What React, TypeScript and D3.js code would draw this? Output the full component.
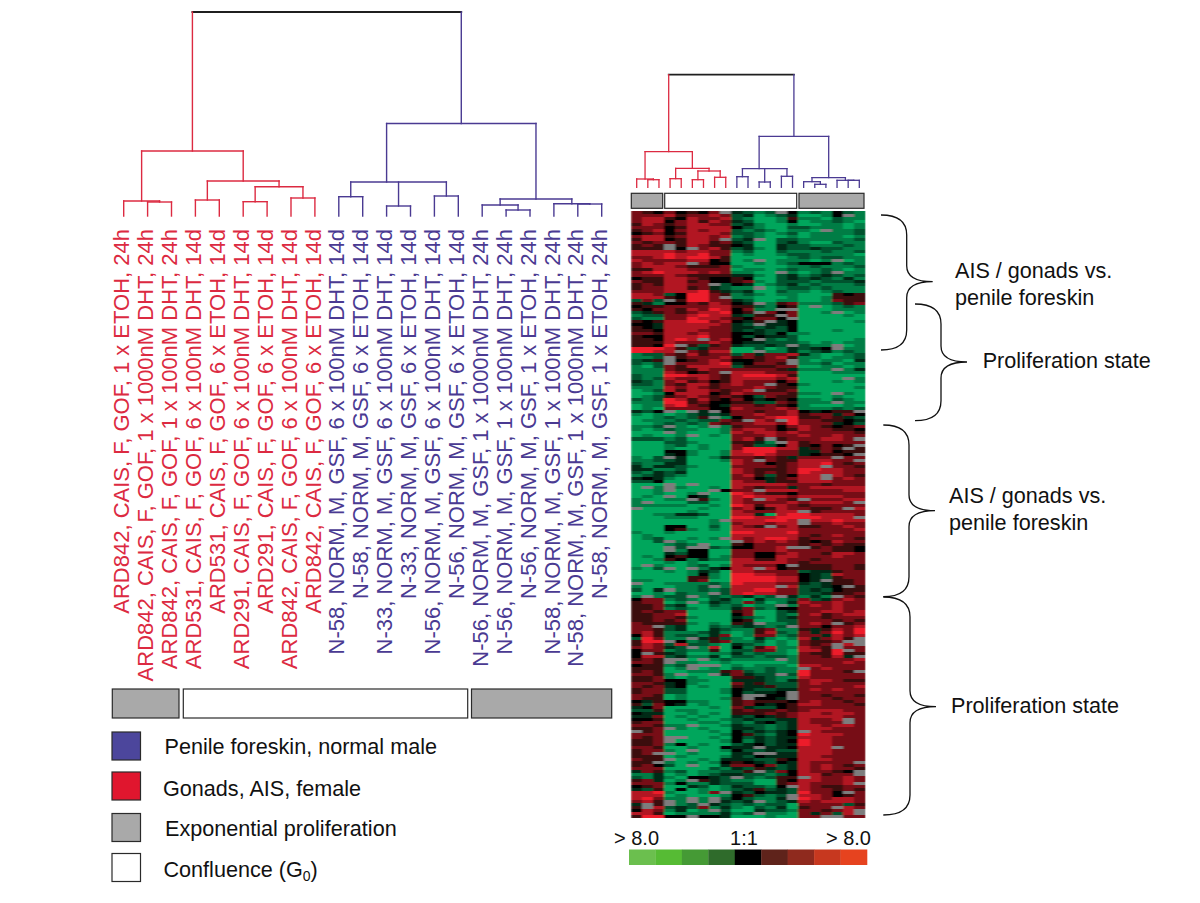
import React from "react";
import * as d3 from "d3";

const sampleLabels = [
  "ARD842, CAIS, F, GOF, 1 x ETOH, 24h",
  "ARD842, CAIS, F, GOF, 1 x 1000nM DHT, 24h",
  "ARD842, CAIS, F, GOF, 1 x 100nM DHT, 24h",
  "ARD531, CAIS, F, GOF, 6 x 100nM DHT, 14d",
  "ARD531, CAIS, F, GOF, 6 x ETOH, 14d",
  "ARD291, CAIS, F, GOF, 6 x 100nM DHT, 14d",
  "ARD291, CAIS, F, GOF, 6 x ETOH, 14d",
  "ARD842, CAIS, F, GOF, 6 x 100nM DHT, 14d",
  "ARD842, CAIS, F, GOF, 6 x ETOH, 14d",
  "N-58, NORM, M, GSF, 6 x 100nM DHT, 14d",
  "N-58, NORM, M, GSF, 6 x ETOH, 14d",
  "N-33, NORM, M, GSF, 6 x 100nM DHT, 14d",
  "N-33, NORM, M, GSF, 6 x ETOH, 14d",
  "N-56, NORM, M, GSF, 6 x 100nM DHT, 14d",
  "N-56, NORM, M, GSF, 6 x ETOH, 14d",
  "N-56, NORM, M, GSF, 1 x 1000nM DHT, 24h",
  "N-56, NORM, M, GSF, 1 x 100nM DHT, 24h",
  "N-56, NORM, M, GSF, 1 x ETOH, 24h",
  "N-58, NORM, M, GSF, 1 x 100nM DHT, 24h",
  "N-58, NORM, M, GSF, 1 x 1000nM DHT, 24h",
  "N-58, NORM, M, GSF, 1 x ETOH, 24h",
];
const redCount = 9;

// merge id -> children (number = leaf index, string = merge id)
const merges: Record<string, (number | string)[]> = {
  m0: ["m1", "m2"],
  m1: ["m3", "m6"],
  m3: [0, "m4"],
  m4: [1, 2],
  m6: ["m7", "m8"],
  m7: [3, 4],
  m8: ["m9", "m10"],
  m9: [5, 6],
  m10: [7, 8],
  m2: ["m11", "m15"],
  m11: ["m12", "m13", "m14"],
  m12: [9, 10],
  m13: [11, 12],
  m14: [13, 14],
  m15: ["m16", "m19"],
  m16: [15, "m17"],
  m17: [16, 17],
  m19: [18, "m20"],
  m20: [19, 20],
};
// a merge whose upward stem leaves from one leaf's position rather than the bar's middle
const stemAtLeaf: Record<string, number> = { m11: 11 };
const sampleHeights: Record<string, number> = {
  m0: 204, m1: 65, m3: 15, m4: 14, m6: 35, m7: 16, m8: 29.3, m9: 14.3, m10: 18,
  m2: 92.5, m11: 34, m12: 19.3, m13: 10, m14: 20, m15: 17, m16: 11, m17: 6, m19: 12.3, m20: 12,
};
const heatHeights: Record<string, number> = {
  m0: 112.6, m1: 35.6, m3: 8.3, m4: 7.6, m6: 19, m7: 8.6, m8: 16.3, m9: 7.6, m10: 10,
  m2: 51, m11: 18.6, m12: 10.6, m13: 5.3, m14: 11, m15: 9.6, m16: 5.6, m17: 3, m19: 7, m20: 7,
};

const heatRows = [
  "ba0 b0 a0 b. AB CB .0 CBC 0BC", "bbb ca bb cb BA DC BA DDC 0.C", "bcc a0 cb bc BC DD Ca CCD BCC", "bcc 0b ca cb AB DD C0 DCC BCD",
  "acb ab cc bb BA CD DC DDC CDC", "bbb 0a cc cc 0B CD DB BCC CDC", "abc 0b cb cc BC BC DC CD. CCB", "0ab 0a cc cb BB CD CB DCC CCB",
  "bcc ab cc bc CB CD DC DCC CDC", "acc 0a cc b. BA .D BB CCC CCB", "bab ba cc ab AB DD BA CDD BCC", "aba .a cb aa 0A DD AB BCC CBC",
  "aaa .0 .b ca BA CD AB BAB BCC", "ccc cb cc bb CB DD BC CCB CCB", "ccc dc cd bb DC DD CB BCC CCD", "bbc dc dd ca DD DD DC BCB BCC",
  "cbb bb cc 0a DC .D CC CDC .DC", "bcb cc .b 00 DD CD CB 000 CBC", "bcc cb aa ab CD DD DC CBC CCB", "aac cc bb bb DC CD CB CCB CDC",
  "bcd cc cb cb CC DD .C DCB .CC", "bbb cb aa aa AA CD BA CBA BCB", "0aa cc ba 00 a0 DD BA BAB CAC", "baa cc ab 00 ab CD BB BCB BBA",
  "aba cc bb .B 0A DC BA CBC CCB", "abb cc ab AB CC .D CB BCB CCC", "bbb cc cd aA BA DD BC CDC BCC", "ccb B0 dd ba CB CD CC DDD a0a",
  "ccc a0 dd b. CC DD DC DDC aaa", "BbB .a dd bb AB DD CC DDC baa", "aAC 00 ba cb 0A .C ab CCC Bab", "0aa bb bb cc aa BC 0a D.D CBC",
  "a0b ba cb dc 0b CC .. DDD CCC", "BAa ba bc cd 0a .b 0b DDC .DC", "CBB bb cd cc AB aa .b DDD DCD", "BCC bb dc cb a0 bb 0. DDD DDD",
  "a0a cc dd bc 0A a. A0 DDD DDC", "00A cc cc cb AB .A A0 DDD DDD", "a0A cc cc bb AA BA B0 DDD DDD", "aa0 cc cb bb AB AB B0 DDD CDD",

  "bba cc bc bb 00 AB 0C CDD DDD", "a00 cc cd bb 0B 0A AB DDD DDD", "aa0 cd c. bc 00 .B CB DDD DDC", "aaa cb bb cb 0A AB BB CDC DCC",
  "aa0 d. aB ab AB BA B. BCC .DC", "ddd ca BA bb DD BD CA BA0 .CC", "ddc c. ba cc DD .C CA CBA CBC", "CBB ba ca bb Bb Ab bc ACD DCB",
  "CCB .a bb bc ab ab ca CCD CCB", "BAa .0 ab cb 00 ab b. CDC CDA", "BCB .b bb cd A0 bb a. CCB DCC", "CDB ba cc cc Ba aa bb DDC CDC",
  "CCC ba ac bb bb bb aA CCC .CA", "CCC cb 0a b. cc cb bb DDD CCC", "BCC dd cc ba cd dd ca DDD DDD", "BCB cb bc ba cc cc bc DDD D.C",
  "ABC bc ab 0a cb bb 0b DDD CDC", "BBC ba cc ab cb b. a0 CDD DDD", "CCC cb cb ab bb cb aa DDD DDC", "DCB ca cc ba bc .a ab DDD DDD",
  "DDC 0c cc 0a cb bb ba CCD .CD", "DCB ab cb ab a0 Bb aa DDD CDD", "BCB dc ac a0 b0 A0 a0 CCD BCD", "CCC dd ab 00 aa BB ba CCC .CC",
  "DCC cd ba 0A bb ab a0 CDD DCD", "DCD bb bb 00 cb bb cb CCC BCB", "AB0 .D .A .0 bb ab bc 0A0 aa.", "CDC DC BA BA bb cb bc abb Ab0",
  "DDC BC Ba .C 0b bc dd aab aAB", "DCC CB CB Bb a. cb .d bba a0A", "DDC BC BC ba bb cc bd bbb A0B", "CCB .C DC .C ab bb 0b cba 0ab",
  "CDC BC CD DC bc cb 0a cbb aa0", "DDD .C DD DC cb cc bc bbb bba", "DCD DC .D CD bb bc bb cbb cbb", "BBB CB DD DD bc a. ab bbc cb.",
  "DDD BB CD DD aa AC .c abb bbb", "DDD CB DC DD ba BB 0c a0b 0a.", "DDD CD DC DD bd dd cc Aab a.a", "DDD 00 CD DC cd dd bb AAb 0aa",
  "DDD A0 CD DC cc dc bb A0a a0.",

  "CDB .A DD CA bb ab aA bbb .bb", "CCB BA DD DC cb .b aa ccc bb.", "BCC AA DD DD cb b0 ab ccd bab", "ACA AB CD DD bb bb ab cc. bba",
  "AAC CB DD DD cb aa ab ddc cbb", "BCA BA DD DD cb ab ab dcc cbb", "CBA BC DD DD bc aB a0 cc. cba", "A0A CD DD DD bb 0A ab cc. bcb",
  "BB0 DD DD DD cb bA aa ccc bbb", "DDD .D .D DD cc cc cb bba bbb", "D.C .C DD CD cb ab bA bcc ccc", "DDC .D DD .0 bb .c cc bbb bcc",
  "DDC DD C. DD dc ba a0 bbb bbb", "DCD .D 0A DD cd cc cb ccc cbb", "CDD CC .a CD cb .c ba .bb bcc", "C.D DD BB DD cb bb bc bcc cb.",
  "CCC CC DD CD dc ac cb abb bbb", ".DD DD DC DD bc 0a cb baa b.c", "DDD DD CD DD cb bb cc .ab bbb", "DDC CA AB DD cc AD cd dcc ccb",
  "DDD CC CD DD dd cc dd ddc cc.", "DDD DD DD C. cc cd dc .cc dcc", "DDD DD DD CD bc cb cc .bb cbb", "DDD 00 DD BD cb a. bc aab bcb",
  "DDD 0a CD CD cc cc cc bbb bbc", "CDD CD DD DD dd cc cd bbb bbb", "DCD DD DD DD cc cc cc bab cbb", "DCB DD CD C. cb cd dc abb bba",
  "DDB .C DD DD .b cb cb a0a cbb", "DDD CB C. DD a0 bb bb aba baa", "DDD .B .. BC 00 bb c. .ab aa0", "DDD .C 00 DD bb bb cb bbb aa0",
  "DDD AB 00 DD bb 00 bc bba ccb", "DCD 0a 00 DC bb 00 cc bbb cbb", "DDC a0 CA CC cc aa cb bab bbb", "DDD CD CD DD cc cc cb abb bbb",
  "D.C DD CB DC cb bb 0. aaa bba", "CDB .D .C A0 cc .c 0a aaa bba", "DDD CD CA BD cc bb bb BAA abb", "DDD DD C0 CD dd cc bb 0AB cbb",

  "DDD DD aa CD dd dd cc 0AB abb", "CCD DD ab DD dd dd cc 0A. aab", ".DD CC CC BC dc cc bb ABA aab", "CDD DC CB .C cc cc .c BBA 0.a",
  "BDA .C CB CB cc dd bb BAB 0aa", "DDC DB CC .B cd cc bb BBA aab", "C.C BB .C BC BA CB .A CAC .ba", "0bb CB CD BA CD AC CB bBA bcb",
  "abb DC .C AB Cb BD CA cbb cbb", "aab BA DD BC BD CC .C bcb cbb", "aab CB CD CC Ab BC 00 bbb cbb", "aba bb DD DD ab DD BA bbc cbc",
  "aab bc DD DD 0b DD BC bca bcc", "aab ba CD DD AB CD BA bba bbb", "aab ab DD DD 0a DD BB bbb aba", "baa aa CD CD aA .C CB bcb .ab",
  "bb. BA DD BC BA BC B. bb0 bbc", "bba BA DD AB CC ab CC aAa cbd", "bca CC CB AC DC ac BC bAb dbd", "0ca CB BC Ab DC bb CB bbA cbc",
  "Bdb CC .A aB CD AC DC cAb ca.", "add .0 CB ab CC BD CD baa b..", "acb Bc BB CD AB CD CD bab .c.", "bcb AB .C cD 0C ac CC cba .bb",
  "0bb CB CC aD BB bb CD cca d.b", "0.a AB DD CC AC BC CD baa daa", "0cc BA CC AD BB CB BC bba cA.", "aba .. D. CB CC CC .C bbb bbc",
  "bba .C CD DC DD DD DC bbb bcb", "0aa CB .. .D CD CC CD ccb bbb", "aaa DC .D CD BC CB CC .bc bbb", "aba DD CC Ca bB CB CC dbb ba.",
  "bba C. DD .A bA BB .B dbb bbb", "aab CD CD DD aa AB CC cbb bbb", "aab 00 CC DD AA AB CA bcc baa", "bba A0 CD DD bA aB BB bcb bbb",
  "bab A0 DC DD aA Aa BB bbb bbc", "abb BB DD DC 0A BB AA bcb cbb", "abb BB DD DC 0B AA 0. bbb bbb", "bba DC DD DD 0. .0 0. bba bba",
  "baa DC DD DC a. 00 A. bbb abb",

  "0Aa 00 CC DD ab aa a0 bcb bab", "aBb 0A DC DD ab 0A 0a ccb bba", "A0b DD DD CD bA BB 0a bbb bbb", "BBa DC CD DD ab aa ba bcc cbb",
  "0AA DD CD CD aa ab ab ccb ccb", "AAb DC DC DD AB 0A ab ccc cbb", "00a DD CD DC BA BB AA cbb c.b", "abb DD DC CD BC A0 BA cbb b.b",
  "bba CC .D DC AB BC BA ccb ccb", "aab .C DC DD AA BC BA ccc bbb", ".ab DD DD CD 0B AB A0 .cb bbb", "bbb DD DD DC 0a BC A0 dcc cbb",
  "bab .. DD CD 0B AB AA ccc bbb", "aab .D DD DC 0C AB A0 dcc bbb", "aab C0 DC DD BA 0B AA dcc bbb", "bba DD CD D0 AA .A A0 ccc .bb",
  "abb CD .D DC 0B BA BB ccc bbb", "ab. .D CD DD AA .. AA ccc bbb", "aaa DC DD DC AB 0A AA ccb bbb", "baa .D DC DA AA BB a0 ccc bbb",
  "aa. CD CD C0 a0 AB 0A cbb bb.", "ab0 BD .D DA bb 0b BA cbc bab", "bbb DD DD BC AB aA BA cbc bba", "Aba CB DC CB Ba .B b0 cbb a0.",
  "CCA DC DC BA AB BC B0 cca bb.", "BCA CD 00 AB .B CB aa .cb bcb", "abA DC .a AB CC DD a0 ccb bcb", "bbb C0 CC AB BB DD ab cbb bc.",
  "0ab DD AB DC AB BC 0. cba abb", "ABa D0 DC DC BA aB AB cbb aba", "ccd CD DC b. AB 0A AB dbb 0.b", "ccc DC DD DC 0a BC B. ccb 0ab",
  "cdb CC .C .B 0B CC A. dcb ccb", "bca .C .C .A BA .C BA cbc ccb", "A.a .C B. AB CB CB BD bbb bBa", "a.c BA Bb CA CD BC AD abb .cb",
  "0cb CA DC .B DD AB BC bba bc.", "cca DC CC CA CB .C CD bAb Bc.", "add 00 .0 0A DD DC DD bb. .bb",
];
const levelByCode: Record<string, number> = { D: -4, C: -3, B: -2, A: -1, "0": 0, a: 1, b: 2, c: 3, d: 4 };

const ratioColors = ["#6bbf4e", "#56bb34", "#459a35", "#2f6b2b", "#000000", "#5f231b", "#8f2a1e", "#c7381f", "#e6431f"];

const conditionsBottom = ["exp", "conf", "exp"];
const legendItems = [
  { label: "Penile foreskin, normal male", color: "#4c469c", y: 746, tx: 164.5, base: 754 },
  { label: "Gonads, AIS, female", color: "#e0162e", y: 786, tx: 163, base: 796 },
  { label: "Exponential proliferation", color: "#a9a9a9", y: 827.5, tx: 165, base: 835.7 },
  { label: "Confluence (G", color: "#ffffff", y: 867.5, tx: 163.5, base: 877, sub: "0", after: ")" },
];
const annotations = [
  { lines: ["AIS / gonads vs.", "penile foreskin"], x: 955, y: 278 },
  { lines: ["Proliferation state"], x: 982.7, y: 368 },
  { lines: ["AIS / gonads vs.", "penile foreskin"], x: 949, y: 503 },
  { lines: ["Proliferation state"], x: 951, y: 713 },
];
const braces = [
  { x0: 881, xv: 906.7, tip: 932.7, top: 215, mid: 281.7, bot: 350 },
  { x0: 915, xv: 941, tip: 967, top: 304, mid: 362, bot: 420.7 },
  { x0: 883.3, xv: 909, tip: 935, top: 425, mid: 510.7, bot: 596.7 },
  { x0: 883.3, xv: 910, tip: 936, top: 597, mid: 706.7, bot: 815 },
];

const RED = "#dc2a41";
const BLUE = "#4a3a92";
const FONT = "'Liberation Sans', Arial, sans-serif";

function buildTree(id: number | string): any {
  if (typeof id === "number") return { id, leaf: id };
  return { id, children: merges[id].map(buildTree) };
}

function dendroPaths(
  x: d3.ScalePoint<number>,
  y: d3.ScaleLinear<number, number>,
  heights: Record<string, number>,
  width: number
) {
  const root = d3.hierarchy(buildTree("m0"));
  const px = (n: any): number => {
    if (!n.children) return x(n.data.leaf) as number;
    if (stemAtLeaf[n.data.id] !== undefined) return x(stemAtLeaf[n.data.id]) as number;
    return (px(n.children[0]) + px(n.children[n.children.length - 1])) / 2;
  };
  const py = (n: any): number => (n.children ? y(heights[n.data.id]) : y(0));
  const isBlue = (n: any) => n.descendants().some((c: any) => c.data.leaf >= redCount);
  const out: { d: string; color: string; w: number }[] = [];
  root.each((n: any) => {
    if (!n.children) return;
    const isRoot = n.data.id === "m0";
    const color = isRoot ? "#1f1f1f" : isBlue(n) ? BLUE : RED;
    const bar = d3.path();
    const yy = py(n);
    bar.moveTo(px(n.children[0]), yy);
    bar.lineTo(px(n.children[n.children.length - 1]), yy);
    out.push({ d: bar.toString(), color, w: isRoot ? width + 0.4 : width });
    n.children.forEach((c: any) => {
      const stem = d3.path();
      stem.moveTo(px(c), yy);
      stem.lineTo(px(c), py(c));
      out.push({ d: stem.toString(), color: isBlue(c) ? BLUE : RED, w: width });
    });
  });
  return out;
}

function bracePath(b: (typeof braces)[number]) {
  const p = d3.path();
  p.moveTo(b.x0, b.top);
  p.bezierCurveTo(b.xv - 9, b.top, b.xv, b.top + 6, b.xv, b.top + 20);
  p.lineTo(b.xv, b.mid - 16);
  p.bezierCurveTo(b.xv, b.mid - 5, b.xv + 9, b.mid, b.tip, b.mid);
  p.bezierCurveTo(b.xv + 9, b.mid, b.xv, b.mid + 5, b.xv, b.mid + 16);
  p.lineTo(b.xv, b.bot - 20);
  p.bezierCurveTo(b.xv, b.bot - 6, b.xv - 9, b.bot, b.x0, b.bot);
  return p.toString();
}

export default function App() {
  const idx = d3.range(sampleLabels.length);
  const xL = d3.scalePoint<number>().domain(idx).range([123.7, 601.7]);
  const yL = d3.scaleLinear().domain([0, 204]).range([216, 12]);
  const xR = d3.scalePoint<number>().domain(idx).range([636.7, 859.3]);
  const yR = d3.scaleLinear().domain([0, 112.6]).range([187.3, 74.7]);
  const colX = d3.scaleBand<number>().domain(idx).range([630.7, 865.5]);
  const rows = heatRows.map((r) => r.replace(/ /g, ""));
  const rowY = d3.scaleBand<number>().domain(d3.range(rows.length)).range([211, 818]);
  const heatColor = d3
    .scaleLinear<string>()
    .domain([-4, 0, 4])
    .range(["#05a65c", "#000000", "#ed1c2a"]);
  const legendX = d3.scaleBand<number>().domain(d3.range(ratioColors.length)).range([629, 867]);

  const barsLeft = [
    { x0: 112.3, x1: 179 },
    { x0: 183.3, x1: 467.7 },
    { x0: 471.5, x1: 611.7 },
  ];
  const barsRight = [
    { x0: 631.3, x1: 662.7 },
    { x0: 664.7, x1: 796.7 },
    { x0: 799, x1: 864 },
  ];

  return (
    <svg width={1200} height={903} style={{ position: "absolute", left: 0, top: 0, background: "#fff" }} fontFamily={FONT}>
      <defs>
        <filter id="soft" x="-2%" y="-2%" width="104%" height="104%">
          <feGaussianBlur stdDeviation="0.8 0.55" />
        </filter>
        <clipPath id="heatClip">
          <rect x={630.7} y={211} width={234.8} height={607} />
        </clipPath>
      </defs>
      <g fill="none" strokeLinecap="square">
        {dendroPaths(xL, yL, sampleHeights, 1.4).map((p, i) => (
          <path key={i} d={p.d} stroke={p.color} strokeWidth={p.w} />
        ))}
        {dendroPaths(xR, yR, heatHeights, 1.3).map((p, i) => (
          <path key={i} d={p.d} stroke={p.color} strokeWidth={p.w} />
        ))}
      </g>

      {sampleLabels.map((s, i) => (
        <text
          key={s + i}
          transform={`translate(${(xL(i) as number) + 5.6},229) rotate(-90)`}
          textAnchor="end"
          fontSize={22}
          fill={i < redCount ? RED : BLUE}
        >
          {s}
        </text>
      ))}

      {conditionsBottom.map((c, i) => (
        <rect
          key={i}
          x={barsLeft[i].x0}
          y={689}
          width={barsLeft[i].x1 - barsLeft[i].x0}
          height={29}
          fill={c === "exp" ? "#a9a9a9" : "#fff"}
          stroke="#2a2a2a"
          strokeWidth={1.2}
        />
      ))}
      {conditionsBottom.map((c, i) => (
        <rect
          key={"r" + i}
          x={barsRight[i].x0}
          y={193.3}
          width={barsRight[i].x1 - barsRight[i].x0}
          height={15}
          fill={c === "exp" ? "#a9a9a9" : "#fff"}
          stroke="#2a2a2a"
          strokeWidth={1.2}
        />
      ))}

      <g clipPath="url(#heatClip)">
        <g filter="url(#soft)" shapeRendering="crispEdges">
          {rows.map((r, ri) =>
            r.split("").map((ch, ci) => (
              <rect
                key={ri + "-" + ci}
                x={colX(ci)}
                y={rowY(ri)}
                width={colX.bandwidth() + 0.5}
                height={rowY.bandwidth() + 0.5}
                fill={ch === "." ? "#7d7d7d" : heatColor(levelByCode[ch])}
              />
            ))
          )}
        </g>
      </g>

      {ratioColors.map((c, i) => (
        <rect key={i} x={legendX(i)} y={849.5} width={legendX.bandwidth() + 0.3} height={15.5} fill={c} />
      ))}
      <g fontSize={20} fill="#111">
        <text x={614} y={845}>&gt; 8.0</text>
        <text x={744} y={845} textAnchor="middle">1:1</text>
        <text x={871} y={845} textAnchor="end">&gt; 8.0</text>
      </g>

      {legendItems.map((l) => (
        <g key={l.label}>
          <rect x={112} y={l.y - 14} width={28.5} height={28} fill={l.color} stroke="#2a2a2a" strokeWidth={1.2} />
          <text x={l.tx} y={l.base} fontSize={21.6} fill="#111">
            {l.label}
            {l.sub && (
              <tspan fontSize={14} dy={4}>
                {l.sub}
              </tspan>
            )}
            {l.after && <tspan dy={-4}>{l.after}</tspan>}
          </text>
        </g>
      ))}

      <g fill="none" stroke="#111" strokeWidth={1.3}>
        {braces.map((b, i) => (
          <path key={i} d={bracePath(b)} />
        ))}
      </g>
      <g fontSize={21.6} fill="#111">
        {annotations.map((a, i) => (
          <text key={i} x={a.x} y={a.y}>
            {a.lines.map((t, j) => (
              <tspan key={j} x={a.x} dy={j === 0 ? 0 : 27}>
                {t}
              </tspan>
            ))}
          </text>
        ))}
      </g>
    </svg>
  );
}
